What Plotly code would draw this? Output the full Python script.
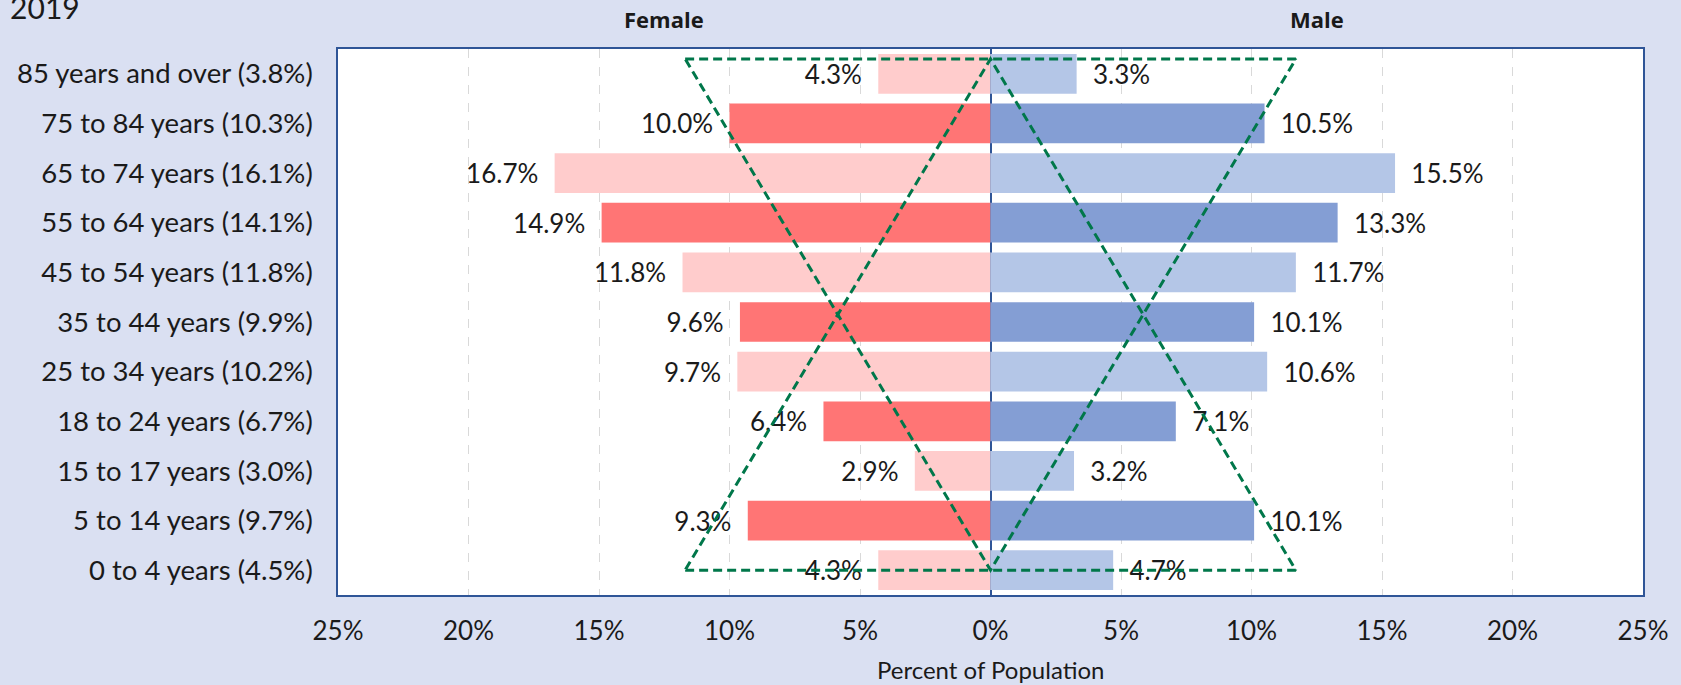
import plotly.graph_objects as go

# ---- data (bottom to top) ----
age_groups = ["0 to 4 years (4.5%)", "5 to 14 years (9.7%)", "15 to 17 years (3.0%)",
              "18 to 24 years (6.7%)", "25 to 34 years (10.2%)", "35 to 44 years (9.9%)",
              "45 to 54 years (11.8%)", "55 to 64 years (14.1%)", "65 to 74 years (16.1%)",
              "75 to 84 years (10.3%)", "85 years and over (3.8%)"]
female = [4.3, 9.3, 2.9, 6.4, 9.7, 9.6, 11.8, 14.9, 16.7, 10.0, 4.3]
male = [4.7, 10.1, 3.2, 7.1, 10.6, 10.1, 11.7, 13.3, 15.5, 10.5, 3.3]

x_tick_vals = [-25, -20, -15, -10, -5, 0, 5, 10, 15, 20, 25]
x_tick_text = ["25%", "20%", "15%", "10%", "5%", "0%", "5%", "10%", "15%", "20%", "25%"]

# dashed overlay triangles (x in %, y in row index)
tri_down_x = [-11.7, 11.7, 0, -11.7]
tri_down_y = [10.3, 10.3, 0, 10.3]
tri_up_x = [-11.7, 11.7, 0, -11.7]
tri_up_y = [0, 0, 10.3, 0]

FONT = "Lato"
TXT = "#1a1a1a"
BG = "#DAE0F2"
BORDER = "#2F5597"
GREEN = "#00774A"

rows = list(range(len(age_groups)))
female_colors = ["#FFCCCC" if i % 2 == 0 else "#FF7575" for i in rows]
male_colors = ["#B4C6E7" if i % 2 == 0 else "#849ED4" for i in rows]
nb = "\u00a0\u00a0"

fig = go.Figure()
fig.add_trace(go.Bar(
    x=[-v for v in female], y=rows, orientation="h", width=0.8,
    marker=dict(color=female_colors, line=dict(width=0)),
    text=[f"{v:.1f}%{nb}" for v in female], textposition="outside",
    constraintext="none", cliponaxis=False,
    textfont=dict(family=FONT, size=26, color=TXT), hoverinfo="skip", showlegend=False))
fig.add_trace(go.Bar(
    x=male, y=rows, orientation="h", width=0.8,
    marker=dict(color=male_colors, line=dict(width=0)),
    text=[f"{nb}{v:.1f}%" for v in male], textposition="outside",
    constraintext="none", cliponaxis=False,
    textfont=dict(family=FONT, size=26, color=TXT), hoverinfo="skip", showlegend=False))
for tx, ty in ((tri_down_x, tri_down_y), (tri_up_x, tri_up_y)):
    fig.add_trace(go.Scatter(
        x=tx, y=ty, mode="lines", cliponaxis=False,
        line=dict(color=GREEN, width=3, dash="9px,5px"),
        hoverinfo="skip", showlegend=False))

fig.update_layout(
    width=1681, height=685,
    margin=dict(l=338, r=34, t=49, b=90),
    paper_bgcolor=BG, plot_bgcolor="white",
    barmode="overlay",
    font=dict(family=FONT, color=TXT),
    title=dict(text="2019", x=0.006, xanchor="left", xref="container",
               y=0.988, yanchor="middle", yref="container",
               font=dict(family=FONT, size=30, color=TXT)),
    xaxis=dict(range=[-25, 25], tickvals=x_tick_vals, ticktext=x_tick_text,
               tickfont=dict(family=FONT, size=26, color=TXT),
               showgrid=True, gridcolor="#D9D9D9", griddash="dash", gridwidth=1,
               zeroline=True, zerolinecolor=BORDER, zerolinewidth=1.5,
               showline=True, linecolor=BORDER, linewidth=1.5, mirror=True,
               ticks="", ticklabelstandoff=12, fixedrange=True),
    yaxis=dict(range=[-0.5, 10.5], tickvals=rows, ticktext=age_groups,
               tickfont=dict(family=FONT, size=27.5, color=TXT),
               showgrid=False, zeroline=False,
               showline=True, linecolor=BORDER, linewidth=1.5, mirror=True,
               ticks="", ticklabelstandoff=18, fixedrange=True),
    annotations=[
        dict(text="<b>Female</b>", x=-12.5, xref="x", y=1.055, yref="paper",
             showarrow=False, yanchor="middle",
             font=dict(family="Open Sans", size=22, color=TXT)),
        dict(text="<b>Male</b>", x=12.5, xref="x", y=1.055, yref="paper",
             showarrow=False, yanchor="middle",
             font=dict(family="Open Sans", size=22, color=TXT)),
        dict(text="Percent of Population", x=0.5, xref="paper", y=-0.137, yref="paper",
             showarrow=False, yanchor="middle",
             font=dict(family=FONT, size=24, color=TXT)),
    ],
)

fig.write_html("out.html", config={"displayModeBar": False},
               post_script="document.body.style.margin='0';document.body.style.overflow='hidden';")
